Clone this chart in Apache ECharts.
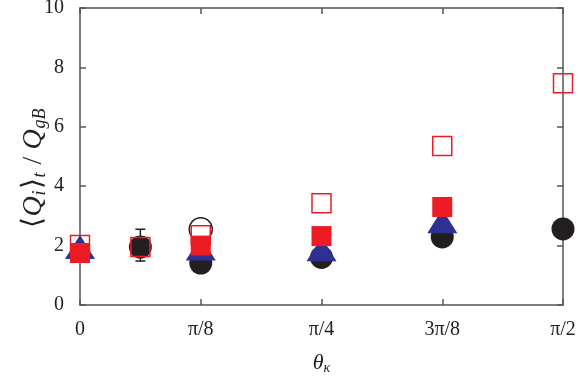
<!DOCTYPE html>
<html>
<head>
<meta charset="utf-8">
<script src="https://cdn.jsdelivr.net/npm/echarts@6/dist/echarts.min.js"></script>
<style>html,body{margin:0;padding:0;background:#fff}#c{width:581px;height:385px}</style>
</head>
<body>
<div id="c"></div>
<script>
// x values in units of pi/8
const xTickLabels = ['0', 'π/8', 'π/4', '3π/8', 'π/2'];
const yTickLabels = ['0', '2', '4', '6', '8', '10'];

const filledCircleX = [0.5, 1, 2, 3, 4];
const filledCircleY = [1.95, 1.41, 1.6, 2.29, 2.56];

const openCircleX = [1];
const openCircleY = [2.55];

const triangleX = [0, 1, 2, 3];
const triangleY = [1.95, 1.9, 1.88, 2.82];

const filledSquareX = [0, 1, 2, 3];
const filledSquareY = [1.75, 2.0, 2.32, 3.3];

const openSquareX = [0, 0.5, 1, 2, 3, 4];
const openSquareY = [2.02, 1.95, 2.35, 3.43, 5.35, 7.47];

const errX = [0.5];
const errLow = [1.48];
const errHigh = [2.55];

const zip = (xs, ys) => xs.map((x, i) => [x, ys[i]]);

const RED = '#ed1c24', BLUE = '#2e3192', BLACK = '#231f20', AXIS = '#555555';
const SERIF = 'Liberation Serif';

const chart = echarts.init(document.getElementById('c'));
const axisLine = { show: true, onZero: false, lineStyle: { color: AXIS, width: 1.5 } };
const axisTick = { show: true, inside: true, length: 6, lineStyle: { color: AXIS, width: 1.5 } };

chart.setOption({
  animation: false,
  grid: { left: 80, right: 18, top: 8, bottom: 80, containLabel: false, outerBoundsMode: 'none' },
  xAxis: [{
    type: 'value', min: 0, max: 4, interval: 1,
    axisLine, axisTick, splitLine: { show: false },
    axisLabel: { margin: 15, fontFamily: SERIF, fontSize: 20, color: '#222',
      formatter: v => xTickLabels[Math.round(v)] },
    name: '{a|θ}{s|κ}', nameLocation: 'middle', nameGap: 46, nameMoveOverlap: false,
    nameTextStyle: { rich: {
      a: { fontFamily: SERIF, fontStyle: 'italic', fontSize: 22, color: '#222' },
      s: { fontFamily: SERIF, fontStyle: 'italic', fontSize: 14, color: '#222', padding: [10, 0, 0, 0] }
    } }
  }, {
    type: 'value', min: 0, max: 4, interval: 1, position: 'top',
    axisLine, axisTick, axisLabel: { show: false }, splitLine: { show: false }
  }],
  yAxis: [{
    type: 'value', min: 0, max: 10, interval: 2,
    axisLine, axisTick, splitLine: { show: false },
    axisLabel: { margin: 16, fontFamily: SERIF, fontSize: 20, color: '#222',
      formatter: v => yTickLabels[Math.round(v / 2)] },
    name: '{a|⟨}{b|Q}{s|i}{a|⟩}{s|t}{a| / }{b|Q}{s|gB}',
    nameLocation: 'middle', nameGap: 31, nameRotate: 90, nameMoveOverlap: false,
    nameTextStyle: { padding: [0, 22, 0, 0], rich: {
      a: { fontFamily: SERIF, fontSize: 28, color: '#222' },
      b: { fontFamily: SERIF, fontStyle: 'italic', fontSize: 28, color: '#222' },
      s: { fontFamily: SERIF, fontStyle: 'italic', fontSize: 18, color: '#222', padding: [13, 1, 0, 1] }
    } }
  }, {
    type: 'value', min: 0, max: 10, interval: 2, position: 'right',
    axisLine, axisTick, axisLabel: { show: false }, splitLine: { show: false }
  }],
  series: [
    {
      type: 'custom', name: 'err', z: 1,
      data: errX.map((x, i) => [x, errLow[i], errHigh[i]]),
      renderItem: (params, api) => {
        const lo = api.coord([api.value(0), api.value(1)]);
        const hi = api.coord([api.value(0), api.value(2)]);
        const w = 5;
        const st = { stroke: BLACK, lineWidth: 1.5 };
        return { type: 'group', children: [
          { type: 'line', shape: { x1: lo[0], y1: lo[1], x2: hi[0], y2: hi[1] }, style: st },
          { type: 'line', shape: { x1: lo[0] - w, y1: lo[1], x2: lo[0] + w, y2: lo[1] }, style: st },
          { type: 'line', shape: { x1: hi[0] - w, y1: hi[1], x2: hi[0] + w, y2: hi[1] }, style: st }
        ] };
      }
    },
    { type: 'scatter', name: 'filled circle', z: 2, symbol: 'circle', symbolSize: 23,
      itemStyle: { color: BLACK, opacity: 1 }, data: zip(filledCircleX, filledCircleY) },
    { type: 'scatter', name: 'open circle', z: 3, symbol: 'circle', symbolSize: 23,
      itemStyle: { color: '#fff', borderColor: BLACK, borderWidth: 1.5, opacity: 1 }, data: zip(openCircleX, openCircleY) },
    { type: 'scatter', name: 'triangle', z: 4, symbol: 'triangle', symbolSize: [30, 24],
      itemStyle: { color: BLUE, opacity: 1 }, data: zip(triangleX, triangleY) },
    { type: 'scatter', name: 'filled square', z: 5, symbol: 'rect', symbolSize: 20,
      itemStyle: { color: RED, opacity: 1 }, data: zip(filledSquareX, filledSquareY) },
    { type: 'scatter', name: 'open square', z: 6, symbol: 'rect', symbolSize: 19,
      itemStyle: { color: 'rgba(0,0,0,0)', borderColor: RED, borderWidth: 1.5, opacity: 1 }, data: zip(openSquareX, openSquareY) }
  ]
});
</script>
</body>
</html>
